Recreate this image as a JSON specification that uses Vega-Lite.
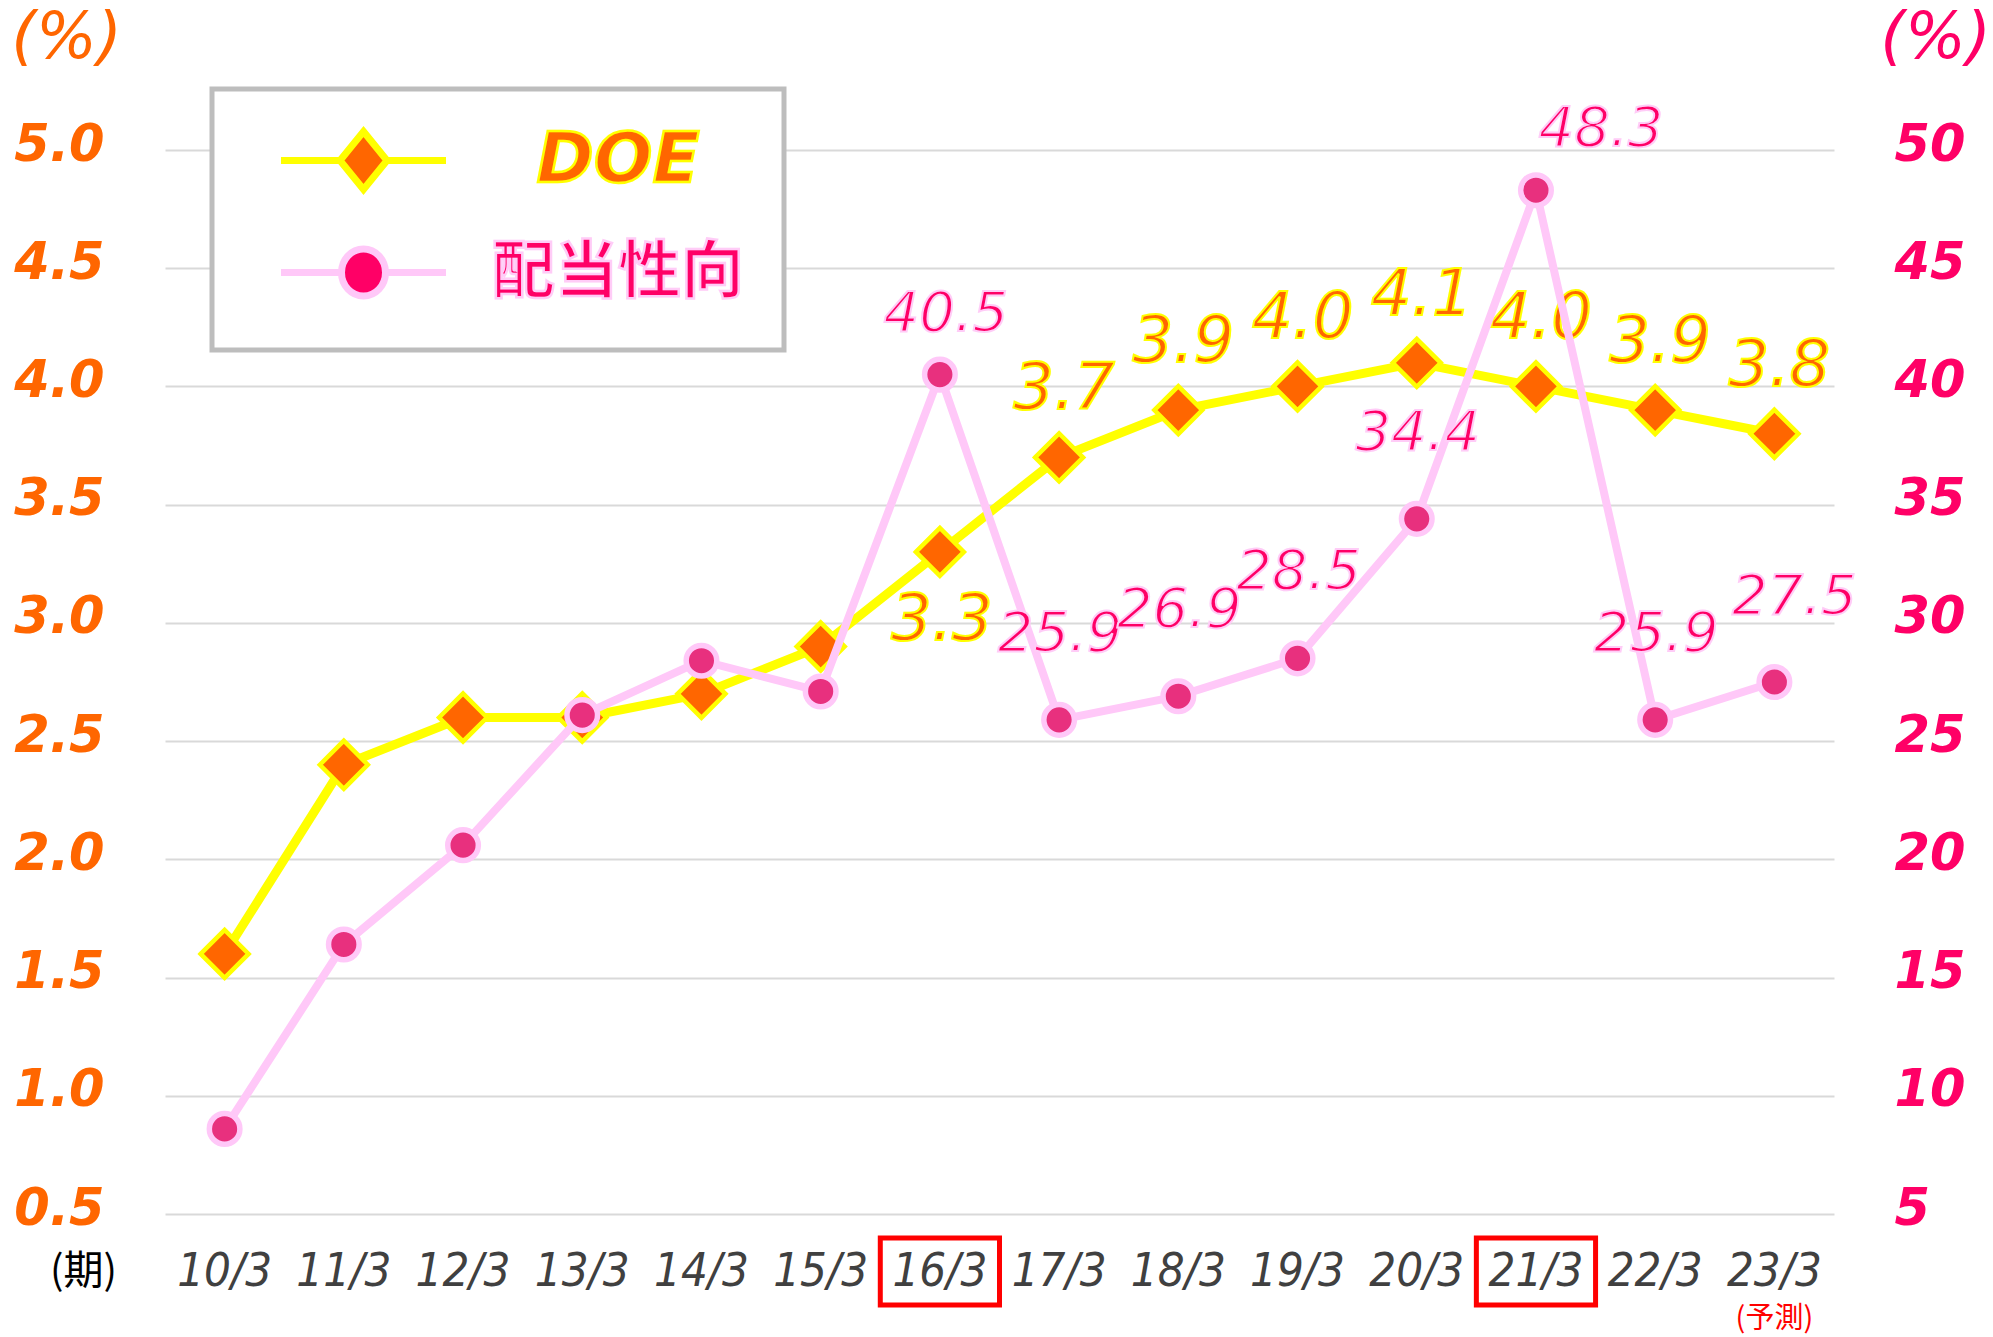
{
  "$schema": "https://vega.github.io/schema/vega-lite/v6.json",
  "width": 1669,
  "height": 1064,
  "autosize": {"type": "none"},
  "padding": {"left": 165, "top": 150, "right": 159, "bottom": 123},
  "background": "#FFFFFF",
  "config": {"view": {"stroke": null}},
  "data": {
    "values": [
      {"period": "10/3", "doe": 1.6, "payout": 8.6},
      {"period": "11/3", "doe": 2.4, "payout": 16.4},
      {"period": "12/3", "doe": 2.6, "payout": 20.6},
      {"period": "13/3", "doe": 2.6, "payout": 26.1},
      {"period": "14/3", "doe": 2.7, "payout": 28.4},
      {"period": "15/3", "doe": 2.9, "payout": 27.1},
      {"period": "16/3", "doe": 3.3, "payout": 40.5},
      {"period": "17/3", "doe": 3.7, "payout": 25.9},
      {"period": "18/3", "doe": 3.9, "payout": 26.9},
      {"period": "19/3", "doe": 4.0, "payout": 28.5},
      {"period": "20/3", "doe": 4.1, "payout": 34.4},
      {"period": "21/3", "doe": 4.0, "payout": 48.3},
      {"period": "22/3", "doe": 3.9, "payout": 25.9},
      {"period": "23/3", "doe": 3.8, "payout": 27.5}
    ]
  },
  "encoding": {
    "x": {
      "field": "period", "type": "ordinal", "sort": null, "bandPosition": 0.5,
      "scale": {"type": "band", "paddingInner": 0, "paddingOuter": 0},
      "axis": {
        "title": "(期)", "titleX": -82, "titleY": 57, "titleAngle": 0, "titleAlign": "center", "titleBaseline": "middle",
        "titleFont": "Noto Sans CJK JP", "titleFontSize": 40, "titleFontWeight": "normal", "titleColor": "#000000",
        "labelAngle": 0, "labelFont": "DejaVu Sans Condensed", "labelFontStyle": "italic", "labelFontSize": 47,
        "labelColor": "#404040", "labelBaseline": "middle", "labelPadding": 57,
        "domain": false, "ticks": false, "grid": false
      }
    }
  },
  "layer": [
    {
      "encoding": {
        "y": {
          "field": "doe", "type": "quantitative",
          "scale": {"domain": [0.5, 5.0], "nice": false, "zero": false},
          "axis": {
            "orient": "left", "values": [0.5, 1.0, 1.5, 2.0, 2.5, 3.0, 3.5, 4.0, 4.5, 5.0], "format": ".1f",
            "title": "(%)", "titleAngle": 0, "titleX": -99, "titleY": -112, "titleAlign": "center", "titleBaseline": "middle",
            "titleFont": "DejaVu Sans", "titleFontStyle": "italic", "titleFontWeight": "normal", "titleFontSize": 64, "titleColor": "#FF6600",
            "labelFont": "DejaVu Sans", "labelFontStyle": "italic", "labelFontWeight": "bold", "labelFontSize": 51, "labelColor": "#FF6600",
            "labelPadding": 61, "labelBaseline": "middle", "labelOffset": -5,
            "domain": false, "ticks": false, "grid": true, "gridColor": "#D9D9D9", "gridWidth": 2,
            "encode": {
              "labels": {"update": {"stroke": {"value": "#FFFF00"}, "strokeWidth": {"value": 2.5}}},
              "title": {"update": {"stroke": {"value": "#FFFF00"}, "strokeWidth": {"value": 2.5}}}
            }
          }
        }
      },
      "layer": [
        {
          "mark": {"type": "line", "strokeWidth": 9},
          "encoding": {
            "color": {
              "datum": "DOE", "type": "nominal",
              "scale": {"domain": ["DOE", "配当性向"], "range": ["#FFFF00", "#FFC8F8"]},
              "legend": {
                "title": null, "orient": "none", "legendX": 47, "legendY": -61, "direction": "vertical",
                "padding": 40, "rowPadding": 31, "symbolOffset": 80, "labelOffset": 223, "labelAlign": "center", "labelBaseline": "middle",
                "labelFont": "DejaVu Sans", "labelFontSize": 63, "labelLimit": 600, "symbolSize": 2500, "symbolStrokeWidth": 7,
                "strokeColor": "#BDBDBD", "fillColor": "#FFFFFF",
                "encode": {
                  "legend": {"update": {"strokeWidth": {"value": 5}}},
                  "entries": {"update": {"width": {"value": 505}}},
                  "symbols": {"update": {
                    "shape": {"signal": "datum.value === 'DOE' ? 'M-3.3,0L-0.94,0M0.94,0L3.3,0M0,-1.16L0.94,0L0,1.16L-0.94,0Z' : 'M-3.3,0L-0.88,0M0.88,0L3.3,0M-0.88,0A0.88,0.94,0,1,0,0.88,0A0.88,0.94,0,1,0,-0.88,0Z'"},
                    "fill": {"signal": "datum.value === 'DOE' ? '#FF6600' : '#FF0066'"},
                    "strokeWidth": {"value": 7},
                    "size": {"value": 2500},
                    "opacity": {"value": 1},
                    "fillOpacity": {"value": 1},
                    "strokeOpacity": {"value": 1}
                  }},
                  "labels": {"update": {
                    "fill": {"signal": "datum.value === 'DOE' ? '#FF6600' : '#FF0066'"},
                    "stroke": {"signal": "datum.value === 'DOE' ? '#FFFF00' : '#FFCCF7'"},
                    "strokeWidth": {"value": 2.5},
                    "fontSize": {"signal": "datum.value === 'DOE' ? 69 : 63"},
                    "fontStyle": {"signal": "datum.value === 'DOE' ? 'italic' : 'normal'"},
                    "fontWeight": {"value": "bold"},
                    "font": {"signal": "datum.value === 'DOE' ? 'DejaVu Sans' : 'Noto Sans CJK JP'"}
                  }}
                }
              }
            }
          }
        },
        {
          "mark": {"type": "point", "shape": "diamond", "size": 2300, "filled": true, "fill": "#FF6600", "stroke": "#FFFF00", "strokeWidth": 4.5, "opacity": 1}
        },
        {
          "transform": [{"filter": {"field": "period", "oneOf": ["17/3", "18/3", "19/3", "20/3", "21/3", "22/3", "23/3"]}}],
          "mark": {"type": "text", "font": "DejaVu Sans", "fontStyle": "italic", "fontSize": 64, "fill": "#FF6600", "stroke": "#FFFF00", "strokeWidth": 2, "baseline": "middle", "dy": -67, "dx": 5},
          "encoding": {"text": {"field": "doe", "type": "quantitative", "format": ".1f"}}
        },
        {
          "transform": [{"filter": {"field": "period", "oneOf": ["16/3"]}}],
          "mark": {"type": "text", "font": "DejaVu Sans", "fontStyle": "italic", "fontSize": 64, "fill": "#FF6600", "stroke": "#FFFF00", "strokeWidth": 2, "baseline": "middle", "dy": 69, "dx": 2},
          "encoding": {"text": {"field": "doe", "type": "quantitative", "format": ".1f"}}
        }
      ]
    },
    {
      "encoding": {
        "y": {
          "field": "payout", "type": "quantitative",
          "scale": {"domain": [5, 50], "nice": false, "zero": false},
          "axis": {
            "orient": "right", "values": [5, 10, 15, 20, 25, 30, 35, 40, 45, 50], "format": "d",
            "title": "(%)", "titleAngle": 0, "titleX": 101, "titleY": -112, "titleAlign": "center", "titleBaseline": "middle",
            "titleFont": "DejaVu Sans", "titleFontStyle": "italic", "titleFontWeight": "normal", "titleFontSize": 64, "titleColor": "#FF0066",
            "labelFont": "DejaVu Sans", "labelFontStyle": "italic", "labelFontWeight": "bold", "labelFontSize": 51, "labelColor": "#FF0066",
            "labelPadding": 60, "labelBaseline": "middle", "labelAlign": "left", "labelOffset": -5,
            "domain": false, "ticks": false, "grid": false,
            "encode": {
              "labels": {"update": {"stroke": {"value": "#FFCCF7"}, "strokeWidth": {"value": 2.5}}},
              "title": {"update": {"stroke": {"value": "#FFCCF7"}, "strokeWidth": {"value": 2.5}}}
            }
          }
        }
      },
      "layer": [
        {
          "mark": {"type": "line", "strokeWidth": 8},
          "encoding": {"color": {"datum": "配当性向", "type": "nominal"}}
        },
        {
          "mark": {"type": "point", "shape": "circle", "size": 935, "filled": true, "fill": "#E8307E", "stroke": "#FFC8F8", "strokeWidth": 5.5, "opacity": 1}
        },
        {
          "transform": [{"filter": {"field": "period", "oneOf": ["16/3"]}}],
          "mark": {"type": "text", "font": "DejaVu Sans", "fontStyle": "italic", "fontSize": 56, "fill": "#FF0066", "stroke": "#FFCCF7", "strokeWidth": 2, "baseline": "middle", "dy": -61, "dx": 6},
          "encoding": {"text": {"field": "payout", "type": "quantitative", "format": ".1f"}}
        },
        {
          "transform": [{"filter": {"field": "period", "oneOf": ["21/3"]}}],
          "mark": {"type": "text", "font": "DejaVu Sans", "fontStyle": "italic", "fontSize": 56, "fill": "#FF0066", "stroke": "#FFCCF7", "strokeWidth": 2, "baseline": "middle", "dy": -61, "dx": 65},
          "encoding": {"text": {"field": "payout", "type": "quantitative", "format": ".1f"}}
        },
        {
          "transform": [{"filter": {"field": "period", "oneOf": ["17/3", "18/3", "19/3", "20/3", "22/3"]}}],
          "mark": {"type": "text", "font": "DejaVu Sans", "fontStyle": "italic", "fontSize": 56, "fill": "#FF0066", "stroke": "#FFCCF7", "strokeWidth": 2, "baseline": "middle", "dy": -86, "dx": 1},
          "encoding": {"text": {"field": "payout", "type": "quantitative", "format": ".1f"}}
        },
        {
          "transform": [{"filter": {"field": "period", "oneOf": ["23/3"]}}],
          "mark": {"type": "text", "font": "DejaVu Sans", "fontStyle": "italic", "fontSize": 56, "fill": "#FF0066", "stroke": "#FFCCF7", "strokeWidth": 2, "baseline": "middle", "dy": -85, "dx": 20},
          "encoding": {"text": {"field": "payout", "type": "quantitative", "format": ".1f"}}
        }
      ]
    },
    {
      "transform": [{"filter": {"field": "period", "oneOf": ["16/3", "21/3"]}}],
      "mark": {"type": "rect", "filled": false, "stroke": "#FF0000", "strokeWidth": 5},
      "encoding": {
        "x": {"field": "period", "type": "ordinal", "sort": null, "bandPosition": 0},
        "y": {"value": 1088},
        "y2": {"value": 1155}
      }
    },
    {
      "transform": [{"filter": {"field": "period", "oneOf": ["23/3"]}}],
      "mark": {"type": "text", "text": "(予測)", "font": "Noto Sans CJK JP", "fontSize": 29, "fill": "#FF0000", "baseline": "middle", "align": "center"},
      "encoding": {
        "y": {"value": 1169}
      }
    }
  ],
  "resolve": {"scale": {"y": "independent"}}
}
